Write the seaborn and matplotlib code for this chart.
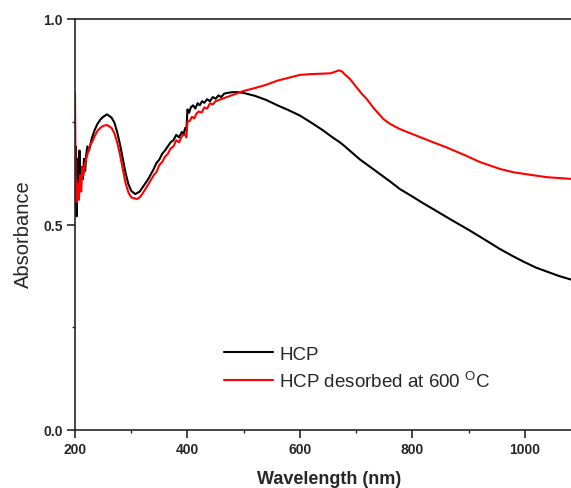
import numpy as np
import pandas as pd
import matplotlib
matplotlib.use("Agg")
import matplotlib.pyplot as plt
import seaborn as sns
from matplotlib.ticker import MultipleLocator

# HCP (black)
hcp_wl = [200, 201, 202, 203, 204, 206, 208, 210, 212, 214, 216, 218, 220, 222,
          225, 230, 235, 240, 245, 250, 257, 265, 270, 275, 280, 285, 290, 295,
          300, 307, 315, 320, 330, 340, 345, 350, 355, 360, 365, 370, 375, 380,
          385, 390, 393, 396, 398, 400, 403, 406, 410, 414, 418, 422, 426, 430,
          435, 440, 445, 450, 455, 460, 465, 470, 480, 490, 500, 520, 540, 560,
          580, 600, 620, 640, 660, 671, 680, 690, 706, 720, 740, 760, 778, 800,
          820, 840, 867, 900, 930, 956, 980, 1000, 1020, 1040, 1060, 1082]
hcp_abs = [0.60, 0.69, 0.55, 0.52, 0.66, 0.58, 0.68, 0.60, 0.64, 0.61, 0.66, 0.63, 0.67, 0.69,
           0.68, 0.71, 0.73, 0.745, 0.755, 0.762, 0.768, 0.760, 0.748, 0.725, 0.695, 0.66, 0.625, 0.598,
           0.582, 0.574, 0.580, 0.590, 0.610, 0.635, 0.650, 0.658, 0.672, 0.680, 0.690, 0.700, 0.705, 0.718,
           0.712, 0.725, 0.720, 0.735, 0.728, 0.780, 0.772, 0.785, 0.790, 0.782, 0.795, 0.790, 0.800, 0.796,
           0.805, 0.800, 0.810, 0.806, 0.814, 0.810, 0.818, 0.820, 0.822, 0.822, 0.820, 0.813, 0.803, 0.790,
           0.778, 0.765, 0.748, 0.730, 0.710, 0.700, 0.690, 0.678, 0.659, 0.645, 0.625, 0.605, 0.586, 0.568,
           0.551, 0.535, 0.513, 0.487, 0.462, 0.440, 0.422, 0.408, 0.395, 0.385, 0.375, 0.366]

# HCP desorbed at 600 C (red)
des_wl = [200, 201, 203, 205, 207, 209, 211, 213, 215, 218, 222, 226, 230, 235, 240,
          245, 250, 257, 265, 270, 275, 280, 285, 290, 295, 300, 310, 315, 320, 330,
          340, 345, 350, 355, 360, 365, 370, 375, 380, 385, 390, 396, 398, 400, 404,
          408, 412, 416, 420, 425, 430, 435, 440, 445, 450, 460, 470, 480, 490, 500,
          520, 540, 560, 580, 600, 620, 640, 655, 665, 670, 675, 680, 689, 700, 710,
          719, 730, 748, 760, 778, 800, 837, 860, 896, 920, 956, 980, 1014, 1040, 1082]
des_abs = [0.82, 0.62, 0.555, 0.60, 0.56, 0.62, 0.58, 0.64, 0.62, 0.65, 0.67, 0.69, 0.70, 0.715, 0.728,
           0.735, 0.740, 0.742, 0.735, 0.722, 0.700, 0.670, 0.635, 0.600, 0.578, 0.566, 0.562, 0.566, 0.575, 0.597,
           0.620, 0.628, 0.645, 0.652, 0.665, 0.672, 0.685, 0.690, 0.705, 0.700, 0.715, 0.720, 0.712, 0.750, 0.752,
           0.762, 0.758, 0.770, 0.775, 0.772, 0.785, 0.782, 0.795, 0.792, 0.800, 0.805, 0.810, 0.815, 0.820, 0.825,
           0.832, 0.840, 0.850, 0.857, 0.864, 0.866, 0.867, 0.868, 0.873, 0.875, 0.872, 0.865, 0.854, 0.835, 0.818,
           0.805, 0.785, 0.757, 0.745, 0.732, 0.720, 0.700, 0.688, 0.667, 0.652, 0.635, 0.627, 0.620, 0.615, 0.611]

labels = ["HCP", r"HCP desorbed at 600 $^{\mathrm{O}}$C"]

df = pd.concat([
    pd.DataFrame({"wl": hcp_wl, "A": hcp_abs, "sample": labels[0]}),
    pd.DataFrame({"wl": des_wl, "A": des_abs, "sample": labels[1]}),
])

sns.set_style("ticks")
plt.rcParams["font.family"] = ["Liberation Sans", "DejaVu Sans"]
plt.rcParams["mathtext.fontset"] = "custom"
plt.rcParams["mathtext.rm"] = "Liberation Sans"

fig = plt.figure(figsize=(5.71, 4.89), dpi=100)
ax = fig.add_axes([75 / 571, 1 - 431 / 489, 1 - 75 / 571, (431 - 20) / 489])

sns.lineplot(data=df, x="wl", y="A", hue="sample", palette=["black", "#ff0000"],
             estimator=None, sort=False, linewidth=1.5, ax=ax)

ax.set_xlim(200, 1082)
ax.set_ylim(0, 1.0)
ax.xaxis.set_major_locator(MultipleLocator(200))
ax.xaxis.set_minor_locator(MultipleLocator(100))
ax.yaxis.set_major_locator(MultipleLocator(0.5))
ax.yaxis.set_minor_locator(MultipleLocator(0.25))
ax.tick_params(which="major", direction="out", length=5.5, width=1.2, labelsize=10, pad=3.5)
ax.tick_params(which="minor", direction="out", length=2.5, width=1.0)
ax.set_xticks([200, 400, 600, 800, 1000])
ax.set_xticklabels(["200", "400", "600", "800", "1000"], fontweight="bold")
ax.set_yticks([0, 0.5, 1.0])
ax.set_yticklabels(["0.0", "0.5", "1.0"], fontweight="bold")

ax.spines["right"].set_visible(False)
for s in ["left", "bottom", "top"]:
    ax.spines[s].set_linewidth(1.2)

ax.set_xlabel("Wavelength (nm)", fontsize=13, fontweight="bold")
ax.xaxis.set_label_coords(0.513, -0.097)
ax.set_ylabel("Absorbance", fontsize=14.5)
ax.yaxis.set_label_coords(-0.084, 0.479)

ax.legend(frameon=False, fontsize=13.5, handlelength=2.6, handletextpad=0.33,
          labelspacing=0.38, loc="upper left", bbox_to_anchor=(0.286, 0.223),
          borderaxespad=0)

fig.savefig("out.png", dpi=100)
